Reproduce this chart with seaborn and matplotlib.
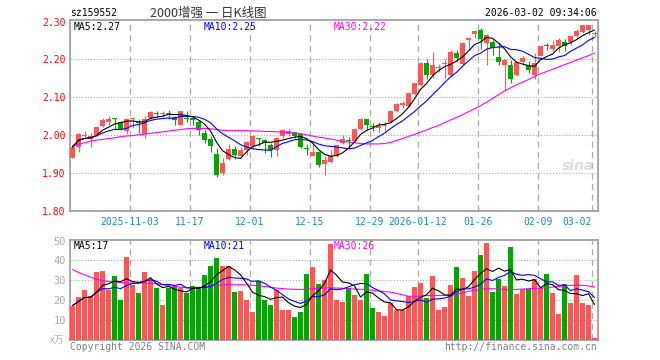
import numpy as np
import pandas as pd
import matplotlib
matplotlib.use("Agg")
import matplotlib.pyplot as plt
import seaborn as sns

# ---------------- data ----------------
opens = [1.940, 1.969, 1.999, 1.991, 2.000, 2.025, 2.036, 2.044, 2.035, 2.010,
         2.042, 2.033, 2.002, 2.045, 2.058, 2.055, 2.058, 2.048, 2.028, 2.045,
         2.045, 2.034, 2.007, 1.990, 1.951, 1.901, 1.936, 1.964, 1.946, 1.960,
         1.972, 1.991, 1.988, 1.975, 1.960, 1.997, 2.003, 2.008, 2.002, 1.965,
         1.946, 1.957, 1.923, 1.928, 1.944, 1.980, 1.986, 1.984, 2.016, 2.042,
         2.024, 2.020, 2.024, 2.036, 2.064, 2.081, 2.076, 2.108, 2.132, 2.190,
         2.158, 2.178, 2.187, 2.159, 2.216, 2.188, 2.251, 2.266, 2.278, 2.243,
         2.245, 2.206, 2.184, 2.186, 2.159, 2.193, 2.186, 2.159, 2.210, 2.237,
         2.227, 2.236, 2.245, 2.245, 2.262, 2.272, 2.277, 2.267]
highs = [1.971, 2.006, 2.011, 2.005, 2.024, 2.045, 2.051, 2.045, 2.037, 2.046,
         2.045, 2.043, 2.051, 2.063, 2.064, 2.063, 2.067, 2.050, 2.064, 2.063,
         2.048, 2.041, 2.014, 1.997, 1.966, 1.940, 1.977, 1.971, 1.968, 1.986,
         2.001, 1.993, 1.989, 1.980, 1.995, 2.016, 2.017, 2.009, 2.006, 1.978,
         1.979, 1.958, 1.946, 1.962, 1.978, 2.000, 1.995, 2.020, 2.045, 2.044,
         2.032, 2.034, 2.036, 2.067, 2.085, 2.091, 2.114, 2.139, 2.192, 2.200,
         2.220, 2.188, 2.198, 2.224, 2.225, 2.245, 2.257, 2.278, 2.284, 2.266,
         2.251, 2.242, 2.202, 2.199, 2.196, 2.208, 2.197, 2.216, 2.236, 2.243,
         2.250, 2.256, 2.254, 2.265, 2.279, 2.291, 2.292, 2.276]
lows = [1.939, 1.957, 1.990, 1.968, 1.998, 2.022, 2.026, 2.016, 2.014, 2.003,
        2.019, 2.007, 1.993, 2.043, 2.047, 2.047, 2.043, 2.027, 2.026, 2.036,
        2.026, 2.001, 1.979, 1.957, 1.889, 1.896, 1.934, 1.936, 1.944, 1.949,
        1.966, 1.971, 1.953, 1.942, 1.946, 1.993, 1.999, 1.993, 1.965, 1.949,
        1.944, 1.915, 1.896, 1.926, 1.942, 1.978, 1.972, 1.982, 2.014, 2.013,
        2.010, 2.008, 2.012, 2.032, 2.062, 2.073, 2.074, 2.106, 2.130, 2.149,
        2.152, 2.166, 2.152, 2.157, 2.193, 2.185, 2.225, 2.256, 2.228, 2.186,
        2.211, 2.186, 2.120, 2.138, 2.157, 2.186, 2.163, 2.149, 2.208, 2.225,
        2.223, 2.220, 2.222, 2.238, 2.260, 2.270, 2.264, 2.260]
closes = [1.969, 2.004, 2.001, 1.998, 2.022, 2.041, 2.044, 2.043, 2.015, 2.042,
          2.044, 2.032, 2.043, 2.062, 2.057, 2.057, 2.056, 2.040, 2.063, 2.043,
          2.040, 2.014, 1.988, 1.971, 1.896, 1.927, 1.964, 1.947, 1.960, 1.981,
          1.997, 1.989, 1.980, 1.960, 1.993, 2.013, 2.010, 1.998, 1.970, 1.964,
          1.957, 1.922, 1.935, 1.944, 1.975, 1.990, 1.985, 2.017, 2.043, 2.028,
          2.022, 2.024, 2.027, 2.064, 2.083, 2.084, 2.111, 2.137, 2.190, 2.159,
          2.186, 2.180, 2.189, 2.220, 2.203, 2.242, 2.256, 2.275, 2.254, 2.264,
          2.230, 2.193, 2.199, 2.149, 2.193, 2.205, 2.172, 2.190, 2.235, 2.235,
          2.238, 2.250, 2.235, 2.262, 2.276, 2.290, 2.290, 2.270]
ma30_price = [1.972, 1.976, 1.980, 1.984, 1.987, 1.989, 1.991, 1.993, 1.996, 1.998,
              1.999, 2.001, 2.003, 2.005, 2.007, 2.009, 2.011, 2.013, 2.015, 2.017,
              2.018, 2.018, 2.018, 2.017, 2.015, 2.013, 2.012, 2.012, 2.012, 2.012,
              2.011, 2.011, 2.010, 2.010, 2.009, 2.008, 2.007, 2.006, 2.004, 2.001,
              1.998, 1.995, 1.993, 1.990, 1.987, 1.984, 1.982, 1.980, 1.978, 1.977,
              1.977, 1.977, 1.978, 1.981, 1.986, 1.991, 1.997, 2.002, 2.008, 2.014,
              2.020, 2.026, 2.033, 2.040, 2.047, 2.054, 2.062, 2.070, 2.078, 2.087,
              2.097, 2.107, 2.117, 2.125, 2.133, 2.140, 2.147, 2.155, 2.162, 2.168,
              2.174, 2.180, 2.186, 2.192, 2.198, 2.204, 2.210, 2.217]
volumes = [17.3, 21.4, 25.3, 21.9, 34.2, 34.6, 25.3, 32.0, 20.3, 41.7,
           27.5, 23.4, 34.1, 30.0, 26.3, 17.8, 26.3, 26.9, 26.3, 23.4,
           26.9, 26.3, 32.5, 37.1, 41.2, 37.1, 37.1, 23.9, 24.6, 20.3,
           14.2, 29.5, 20.3, 17.8, 24.9, 15.3, 15.3, 11.7, 14.2, 33.1,
           36.6, 28.0, 30.0, 48.5, 20.0, 19.0, 26.1, 22.4, 20.3, 33.1,
           15.9, 13.9, 12.2, 18.5, 15.3, 15.3, 21.9, 26.4, 28.6, 21.2,
           32.0, 15.3, 16.4, 27.5, 36.8, 31.0, 22.0, 34.6, 42.7, 49.0,
           23.9, 30.5, 26.9, 46.8, 22.9, 25.8, 25.8, 30.5, 26.3, 33.1,
           23.4, 13.2, 28.3, 18.8, 32.5, 18.8, 17.8, 1.2]
ma30_volume = [35.4, 34.0, 32.8, 31.6, 30.5, 29.9, 29.4, 29.1, 28.9, 28.7,
               28.6, 28.6, 28.6, 28.6, 28.3, 27.8, 27.3, 26.9, 26.5, 26.3,
               26.3, 26.3, 26.6, 27.0, 27.4, 27.7, 27.8, 27.8, 27.8, 27.7,
               27.5, 27.2, 26.9, 26.5, 26.1, 25.8, 25.6, 25.5, 25.4, 25.5,
               25.7, 25.9, 26.1, 26.3, 26.1, 26.0, 25.8, 25.6, 25.5, 25.3,
               25.0, 24.6, 24.3, 24.1, 23.4, 22.7, 22.0, 21.9, 22.0, 22.3,
               22.4, 22.4, 22.4, 22.4, 23.0, 23.6, 24.5, 25.0, 25.4, 25.7,
               25.8, 25.6, 25.4, 25.3, 25.4, 25.6, 25.8, 26.0, 26.1, 26.3,
               26.6, 26.9, 27.2, 27.5, 27.5, 27.5, 27.2, 26.6]
date_labels = ["2025-11-03", "11-17", "12-01", "12-15", "12-29",
               "2026-01-12", "01-26", "02-09", "03-02"]
date_index = [10, 20, 30, 40, 50, 58, 68, 78, 87]
price_ticks = [1.80, 1.90, 2.00, 2.10, 2.20, 2.30]
volume_ticks = [10, 20, 30, 40, 50]

# ---------------- style ----------------
sns.set_theme(style="white")
plt.rcParams["font.family"] = ["DejaVu Sans Mono", "Noto Sans CJK SC"]

RED = "#f85858"
GREEN = "#08a308"
GRID = "#aaaaaa"
FRAME = "#a0a0a0"
BLUE_TXT = "#1a86d0"
LW = 0.8

W, H = 660, 360
fig = plt.figure(figsize=(W / 100, H / 100), dpi=100)
fig.patch.set_facecolor("white")


def fx(px):
    return px / W


def fy(py):
    return 1 - py / H


ax = fig.add_axes([fx(70), fy(211), 528 / W, 191 / H])
axv = fig.add_axes([fx(70), fy(340), 528 / W, 100 / H])

n = len(closes)
x = np.arange(n) + 0.42
o = np.array(opens); c = np.array(closes)
hi = np.array(highs); lo = np.array(lows)
up = c >= o
cols = np.where(up, RED, GREEN)

cs = pd.Series(c)
ma5 = cs.rolling(5, min_periods=1).mean()
ma10 = cs.rolling(10, min_periods=1).mean()
vs = pd.Series(volumes)
vma5 = vs.rolling(5, min_periods=1).mean()
vma10 = vs.rolling(10, min_periods=1).mean()

# ---------------- price panel ----------------
for yv in [1.90, 2.00, 2.10, 2.20]:
    ax.axhline(yv, color=GRID, lw=0.8, ls=(0, (1, 1.6)), zorder=1)
for xi in date_index:
    ax.axvline(xi, color=GRID, lw=0.9, ls=(0, (5, 3.5)), zorder=1)

ax.vlines(x, lo, hi, colors=cols, lw=0.85, zorder=3)
body_bottom = np.minimum(o, c)
body_h = np.maximum(np.abs(c - o), 0.0026)
ax.bar(x, body_h, bottom=body_bottom, width=0.83, color=cols, linewidth=0, zorder=4)

sns.lineplot(x=x, y=ma30_price.copy(), color="#ff00ff", lw=LW, ax=ax, zorder=5, estimator=None)
sns.lineplot(x=x, y=ma10.values, color="#0000ff", lw=LW, ax=ax, zorder=6, estimator=None)
sns.lineplot(x=x, y=ma5.values, color="black", lw=LW, ax=ax, zorder=7, estimator=None)

ax.set_xlim(0, n)
ax.set_ylim(1.8013, 2.304)
ax.set_yticks(price_ticks)
ax.set_yticklabels([f"{t:.2f}" for t in price_ticks], color="#ff0000", fontsize=7)
ax.set_xticks([])
ax.tick_params(axis="y", length=0, pad=3)
ax.set_xlabel(""); ax.set_ylabel("")
for sp in ax.spines.values():
    sp.set_color(FRAME); sp.set_linewidth(1.3); sp.set_visible(True)

trans = ax.get_xaxis_transform()
for lab, xi in zip(date_labels, date_index):
    if lab == "03-02":
        ax.text(xi - 0.1, -0.056, lab, transform=trans, ha="right", va="center",
                color=BLUE_TXT, fontsize=7)
    else:
        ax.text(xi, -0.056, lab, transform=trans, ha="center", va="center",
                color=BLUE_TXT, fontsize=7)

# ---------------- volume panel ----------------
for yv in [10, 20, 30, 40]:
    axv.axhline(yv, color=GRID, lw=0.8, ls=(0, (1, 1.6)), zorder=1)
for xi in date_index:
    axv.axvline(xi, color=GRID, lw=0.9, ls=(0, (5, 3.5)), zorder=1)

vdf = pd.DataFrame({"x": x, "vol": volumes, "dir": np.where(up, "up", "down")})
sns.barplot(data=vdf, x="x", y="vol", hue="dir", palette={"up": RED, "down": GREEN},
            native_scale=True, width=0.83, dodge=False, legend=False, errorbar=None,
            saturation=1, linewidth=0, ax=axv, zorder=3)
sns.lineplot(x=x, y=ma30_volume.copy(), color="#ff00ff", lw=LW, ax=axv, zorder=5, estimator=None)
sns.lineplot(x=x, y=vma10.values, color="#0000ff", lw=LW, ax=axv, zorder=6, estimator=None)
sns.lineplot(x=x, y=vma5.values, color="black", lw=LW, ax=axv, zorder=7, estimator=None)

axv.set_xlim(0, n)
axv.set_ylim(-0.05, 50.3)
axv.set_yticks(volume_ticks)
axv.set_yticklabels([str(t) for t in volume_ticks], color="#a8a8a8", fontsize=7.5)
axv.set_xticks([])
axv.tick_params(axis="y", length=0, pad=3)
axv.set_xlabel(""); axv.set_ylabel("")
for sp in axv.spines.values():
    sp.set_color(FRAME); sp.set_linewidth(1.3); sp.set_visible(True)

# ---------------- texts ----------------
fig.text(fx(70), fy(13), "sz159552", ha="left", va="center", fontsize=7, color="black")
fig.text(fx(150), fy(13), "2000增强 一 日K线图", ha="left", va="center", fontsize=9,
         color="#333333", family=["Noto Sans CJK SC", "DejaVu Sans"])
fig.text(fx(597), fy(13), "2026-03-02 09:34:06", ha="right", va="center", fontsize=7, color="black")

fig.text(fx(74), fy(27), "MA5:2.27", ha="left", va="center", fontsize=7, color="black")
fig.text(fx(204), fy(27), "MA10:2.25", ha="left", va="center", fontsize=7, color="#0000ff")
fig.text(fx(334), fy(27), "MA30:2.22", ha="left", va="center", fontsize=7, color="#ff00ff")

fig.text(fx(74), fy(246), "MA5:17", ha="left", va="center", fontsize=7, color="black")
fig.text(fx(204), fy(246), "MA10:21", ha="left", va="center", fontsize=7, color="#0000ff")
fig.text(fx(334), fy(246), "MA30:26", ha="left", va="center", fontsize=7, color="#ff00ff")

fig.text(fx(64), fy(340), "x万", ha="right", va="center", fontsize=7, color="#b0b0b0",
         family=["Noto Sans CJK SC", "DejaVu Sans"])
fig.text(fx(70), fy(347), "Copyright 2026 SINA.COM", ha="left", va="center", fontsize=7, color="#808080")
fig.text(fx(597), fy(347), "http://finance.sina.com.cn", ha="right", va="center", fontsize=7, color="#808080")

fig.text(fx(594), fy(166), "sina", ha="right", va="center", fontsize=10, color="#dcdcdc",
         style="italic", weight="bold", family="DejaVu Sans")

fig.savefig("out.png", dpi=100, facecolor="white")
